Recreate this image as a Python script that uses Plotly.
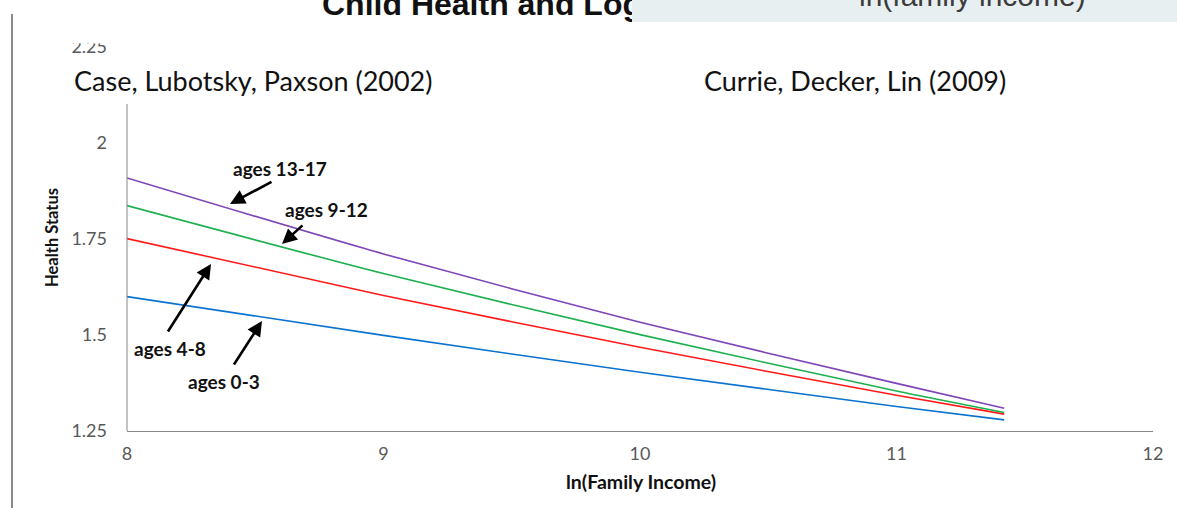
import plotly.graph_objects as go

# ---------------- data ----------------
income = [8, 9, 10, 11, 11.42]
ages_0_3 = [1.600, 1.499, 1.403, 1.314, 1.279]
ages_4_8 = [1.751, 1.603, 1.468, 1.343, 1.294]
ages_9_12 = [1.837, 1.660, 1.501, 1.354, 1.298]
ages_13_17 = [1.909, 1.711, 1.533, 1.374, 1.309]

series_names = ["ages 0-3", "ages 4-8", "ages 9-12", "ages 13-17"]
series_colors = ["#0a72cf", "#ff1a1a", "#1db04f", "#7d45b8"]

x_ticks = [8, 9, 10, 11, 12]
y_ticks = [1.25, 1.5, 1.75, 2, 2.25]
y_tick_text = ["1.25", "1.5", "1.75", "2", "2.25"]

# plot-area geometry (pixels)
W, H = 1177, 508
L, R, T, B = 127, 1153, 47, 431


def pxx(x):
    return (x - L) / (R - L)


def pxy(y):
    return (B - y) / (B - T)


FONT = "Lato"

fig = go.Figure()
for name, vals, col in zip(series_names, [ages_0_3, ages_4_8, ages_9_12, ages_13_17], series_colors):
    fig.add_trace(go.Scatter(x=income, y=vals, mode="lines", name=name, hoverinfo="skip",
                             line=dict(color=col, width=1.6, shape="spline", smoothing=0.6)))

shapes = [
    # white cover over top (slide title box)
    dict(type="rect", xref="paper", yref="paper", x0=pxx(20), x1=pxx(1177), y0=pxy(43.5), y1=pxy(-5),
         fillcolor="white", line=dict(width=0), layer="above"),
    # white cover behind "Case, Lubotsky..." text box
    dict(type="rect", xref="paper", yref="paper", x0=pxx(55), x1=pxx(450), y0=pxy(104), y1=pxy(57),
         fillcolor="white", line=dict(width=0), layer="above"),
    # y axis line
    dict(type="line", xref="paper", yref="paper", x0=0, x1=0, y0=pxy(431), y1=pxy(104),
         line=dict(color="#868686", width=1), layer="above"),
    # left slide border line
    dict(type="line", xref="paper", yref="paper", x0=pxx(12), x1=pxx(12), y0=pxy(510), y1=pxy(14),
         line=dict(color="#8a8a8a", width=2), layer="above"),
]

annotations = []
# slide title (clipped at top)
annotations.append(dict(text="<b>Child Health and Log-Income</b>", xref="paper", yref="paper",
                        x=pxx(320), y=pxy(24), xanchor="left", yanchor="bottom", showarrow=False,
                        font=dict(family="Liberation Sans", size=32, color="#111111")))
# grey box at top-right (drawn over the title)
annotations.append(dict(text=" ", xref="paper", yref="paper",
                        x=pxx(632), y=pxy(22), xanchor="left", yanchor="bottom", showarrow=False,
                        width=600, height=90, bgcolor="#e8eff1", borderpad=0, borderwidth=0,
                        font=dict(family="Liberation Sans", size=10, color="#3c3c3c")))
annotations.append(dict(text="ln(family income)", xref="paper", yref="paper",
                        x=pxx(972), y=pxy(14), xanchor="center", yanchor="bottom", showarrow=False,
                        font=dict(family="Liberation Sans", size=30, color="#3c3c3c")))
# study labels
annotations.append(dict(text="Case, Lubotsky, Paxson (2002)", xref="paper", yref="paper",
                        x=pxx(253), y=pxy(80), xanchor="center", yanchor="middle", showarrow=False,
                        font=dict(family=FONT, size=27, color="#111111")))
annotations.append(dict(text="Currie, Decker, Lin (2009)", xref="paper", yref="paper",
                        x=pxx(855), y=pxy(80), xanchor="center", yanchor="middle", showarrow=False,
                        font=dict(family=FONT, size=27, color="#111111")))
# axis titles
annotations.append(dict(text="<b>Health Status</b>", xref="paper", yref="paper",
                        x=pxx(52), y=pxy(238), xanchor="center", yanchor="middle", showarrow=False,
                        textangle=-90, font=dict(family=FONT, size=16.5, color="#111111")))
annotations.append(dict(text="<b>ln(Family Income)</b>", xref="paper", yref="paper",
                        x=pxx(641), y=pxy(481), xanchor="center", yanchor="middle", showarrow=False,
                        font=dict(family=FONT, size=19.5, color="#111111")))

# series labels with arrows (label pos, arrow tail, arrow head) in pixels
labels = [
    ("ages 13-17", (280, 168), (273, 181), (230, 204)),
    ("ages 9-12", (326, 209), (304, 224), (282, 244)),
    ("ages 4-8", (170, 348), (167, 333), (211, 264)),
    ("ages 0-3", (224, 381), (233, 366), (262, 321)),
]
for txt, (tx, ty), (ax_, ay_), (hx, hy) in labels:
    annotations.append(dict(text="<b>" + txt + "</b>", xref="paper", yref="paper",
                            x=pxx(tx), y=pxy(ty), xanchor="center", yanchor="middle", showarrow=False,
                            font=dict(family=FONT, size=19, color="#111111")))
    annotations.append(dict(text="", xref="paper", yref="paper", axref="pixel", ayref="pixel",
                            x=pxx(hx), y=pxy(hy), ax=ax_ - hx, ay=ay_ - hy, showarrow=True,
                            arrowhead=2, arrowsize=1.15, arrowwidth=2.6, arrowcolor="#000000",
                            standoff=0, startstandoff=0))

fig.update_layout(
    width=W, height=H,
    margin=dict(l=L, r=W - R, t=T, b=H - B, autoexpand=False),
    paper_bgcolor="white", plot_bgcolor="white",
    showlegend=False, hovermode=False,
    xaxis=dict(range=[8, 12], tickvals=x_ticks, showgrid=False, zeroline=False,
               showline=True, linecolor="#868686", linewidth=1, ticks="",
               ticklabelstandoff=6, tickfont=dict(family=FONT, size=18, color="#595959")),
    yaxis=dict(range=[1.25, 2.25], tickvals=y_ticks, ticktext=y_tick_text, showgrid=False,
               zeroline=False, showline=False, ticks="", ticklabelstandoff=19,
               tickfont=dict(family=FONT, size=18, color="#595959")),
    shapes=shapes,
    annotations=annotations,
)

fig.write_html(
    "out.html",
    config={"displayModeBar": False},
    post_script="document.body.style.margin='0';document.body.style.overflow='hidden';",
)
